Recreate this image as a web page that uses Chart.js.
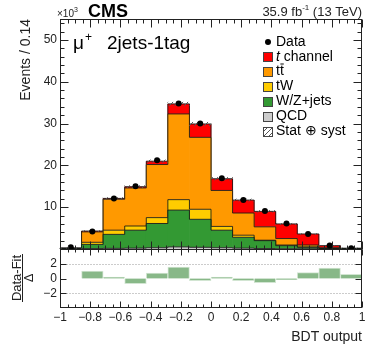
<!DOCTYPE html>
<html>
<head>
<meta charset="utf-8">
<script src="https://cdn.jsdelivr.net/npm/chart.js@4.4.0/dist/chart.umd.min.js"></script>
<style>
  html, body { margin: 0; padding: 0; background: #fff; }
  #wrap { width: 374px; height: 357px; }
</style>
</head>
<body>
<div id="wrap"><canvas id="bdtChart" width="374" height="357"></canvas></div>
<script>
// BDT output, mu+ 2jets-1tag; event counts in units of 10^3
const binCenters = [-0.92857, -0.78571, -0.64286, -0.5, -0.35714, -0.21429, -0.07143,
                    0.07143, 0.21429, 0.35714, 0.5, 0.64286, 0.78571, 0.92857];
const obsData   = [0.4, 4.2, 12.1, 15.0, 21.2, 34.8, 30.0, 16.9, 11.7, 9.1, 6.1, 3.6, 0.85, 0.2];
const tChannel  = [0.05, 0.2, 0.2, 0.3, 0.8, 2.4, 3.2, 2.8, 3.1, 3.7, 3.5, 2.65, 0.5, 0.1];
const ttbar     = [0.08, 2.5, 7.4, 9.1, 12.7, 20.5, 17.2, 8.6, 5.3, 3.2, 1.55, 0.45, 0.15, 0.04];
const tW        = [0.02, 0.5, 1.0, 1.0, 1.4, 2.5, 2.4, 0.9, 0.5, 0.1, 0.15, 0.1, 0.05, 0.01];
const wzJets    = [0.1, 1.0, 3.35, 4.3, 5.8, 8.8, 6.7, 4.2, 2.6, 1.9, 0.75, 0.35, 0.1, 0.05];
const qcd       = [0, 0.1, 0.15, 0.2, 0.3, 0.5, 0.4, 0.3, 0.2, 0.1, 0.05, 0.05, 0, 0];
const mcUnc     = [0.05, 0.1, 0.2, 0.25, 0.3, 0.4, 0.4, 0.3, 0.25, 0.2, 0.15, 0.1, 0.05, 0.03];
const pulls     = [0, 1.0, 0.2, -0.7, 0.75, 1.55, -0.3, 0.2, -0.3, -0.55, -0.15, 0.8, 1.4, 0.55];

const mcTotal = binCenters.map((_, i) => qcd[i] + wzJets[i] + tW[i] + ttbar[i] + tChannel[i]);

Chart.defaults.font.family = "'Liberation Sans', Arial, Helvetica, sans-serif";
Chart.defaults.color = '#222';

const FONT = "'Liberation Sans', Arial, Helvetica, sans-serif";
const ctx0 = document.getElementById('bdtChart').getContext('2d');

// diagonal hatch for the stat+syst band
const hatch = (() => {
  const c = document.createElement('canvas');
  c.width = 5; c.height = 5;
  const g = c.getContext('2d');
  g.strokeStyle = '#555';
  g.lineWidth = 1;
  g.beginPath();
  g.moveTo(0, 5); g.lineTo(5, 0);
  g.moveTo(-1, 1); g.lineTo(1, -1);
  g.moveTo(4, 6); g.lineTo(6, 4);
  g.stroke();
  return ctx0.createPattern(c, 'repeat');
})();

const toPts = arr => arr.map((v, i) => ({ x: binCenters[i], y: v }));

function mcSet(label, arr, color) {
  return {
    type: 'bar', label, data: toPts(arr), backgroundColor: color, borderWidth: 0,
    yAxisID: 'y', stack: 'mc', grouped: false, barPercentage: 1.03, categoryPercentage: 1
  };
}

function fmt(v) {
  const r = Math.round(v * 10) / 10;
  return r < 0 ? '\u2212' + Math.abs(r) : String(r);
}

function txt(ctx, s, x, y, size, opts = {}) {
  ctx.font = (opts.style || '') + ' ' + size + 'px ' + FONT;
  ctx.textAlign = opts.align || 'left';
  ctx.textBaseline = opts.base || 'alphabetic';
  ctx.fillStyle = opts.color || '#000';
  ctx.fillText(s, x, y);
  return ctx.measureText(s).width;
}

const panels = {
  id: 'panels',
  afterDatasetDraw(chart, args) {
    const ds = chart.data.datasets[args.index];
    if (ds.stack !== 'mc') return;
    const { ctx } = chart;
    const xs = chart.scales.x;
    const half = (xs.getPixelForValue(binCenters[1]) - xs.getPixelForValue(binCenters[0])) / 2;
    const bars = args.meta.data;
    ctx.save();
    ctx.strokeStyle = 'rgba(20,20,20,0.85)';
    ctx.lineWidth = 1;
    ctx.beginPath();
    bars.forEach((b, i) => {
      const l = b.x - half, r = b.x + half;
      if (i === 0) { ctx.moveTo(l, b.base); }
      ctx.lineTo(l, b.y);
      ctx.lineTo(r, b.y);
    });
    const last = bars[bars.length - 1];
    ctx.lineTo(last.x + half, last.base);
    ctx.stroke();
    ctx.restore();
  },
  afterDraw(chart) {
    const { ctx } = chart;
    const xs = chart.scales.x, ys = chart.scales.y, yr = chart.scales.yr;
    const L = Math.round(xs.left) + 0.5, R = Math.round(xs.right) - 0.5;
    const T = Math.round(ys.top) + 0.5, M = Math.round(ys.bottom) + 0.5, B = Math.round(yr.bottom) - 0.5;
    ctx.save();

    // ratio reference lines
    ctx.strokeStyle = '#999';
    ctx.setLineDash([1, 2]);
    [2, -2].forEach(v => {
      const py = Math.round(yr.getPixelForValue(v)) + 0.5;
      ctx.beginPath(); ctx.moveTo(L, py); ctx.lineTo(R, py); ctx.stroke();
    });
    ctx.setLineDash([]);

    // frames
    ctx.strokeStyle = '#222';
    ctx.lineWidth = 1;
    ctx.strokeRect(L, T, R - L, M - T);
    ctx.strokeRect(L, M, R - L, B - M);

    // ticks
    ctx.beginPath();
    for (let i = 0; i <= 40; i++) {
      const v = -1 + i * 0.05;
      const px = Math.round(xs.getPixelForValue(v)) + 0.5;
      const major = i % 4 === 0;
      const lm = major ? 8 : 4, lr = major ? 6 : 3;
      ctx.moveTo(px, T); ctx.lineTo(px, T + lm);
      ctx.moveTo(px, M); ctx.lineTo(px, M - lm);
      ctx.moveTo(px, M); ctx.lineTo(px, M + lr);
      ctx.moveTo(px, B); ctx.lineTo(px, B - lr);
    }
    for (let v = 2; v < 55; v += 2) {
      const py = Math.round(ys.getPixelForValue(v)) + 0.5;
      const len = v % 10 === 0 ? 8 : 4;
      ctx.moveTo(L, py); ctx.lineTo(L + len, py);
      ctx.moveTo(R, py); ctx.lineTo(R - len, py);
    }
    [-2, 0, 2].forEach(v => {
      const py = Math.round(yr.getPixelForValue(v)) + 0.5;
      ctx.moveTo(L, py); ctx.lineTo(L + 6, py);
      ctx.moveTo(R, py); ctx.lineTo(R - 6, py);
    });
    ctx.stroke();

    // header texts
    let w = txt(ctx, '\u00d710', 57, 17, 10, { color: '#222' });
    txt(ctx, '3', 57 + w, 12, 7, { color: '#222' });
    txt(ctx, 'CMS', 88, 17, 18, { style: 'bold' });
    w = txt(ctx, ' (13 TeV)', 362, 16, 13, { align: 'right', color: '#222' });
    const wSup = txt(ctx, '-1', 362 - w, 10, 8, { align: 'right', color: '#222' });
    txt(ctx, '35.9 fb', 362 - w - wSup, 16, 13, { align: 'right', color: '#222' });

    // channel label
    w = txt(ctx, '\u03bc', 73, 49, 19);
    txt(ctx, '+', 73 + w + 1, 41, 12);
    txt(ctx, '2jets-1tag', 107, 49, 19);

    // axis titles
    ctx.save();
    ctx.translate(30, 19);
    ctx.rotate(-Math.PI / 2);
    txt(ctx, 'Events / 0.14', 0, 0, 14, { align: 'right', color: '#222' });
    ctx.restore();

    ctx.save();
    ctx.translate(21, 278);
    ctx.rotate(-Math.PI / 2);
    txt(ctx, 'Data-Fit', 0, 0, 13, { align: 'center', color: '#222' });
    txt(ctx, '\u0394', 0, 12, 13, { align: 'center', color: '#222' });
    ctx.restore();
    ctx.strokeStyle = '#222';
    ctx.beginPath(); ctx.moveTo(22.5, 254); ctx.lineTo(22.5, 302); ctx.stroke();

    txt(ctx, 'BDT output', 362, 341, 14, { align: 'right', color: '#222' });

    // legend
    const lx = 263, tx = 276, rows = [42, 57, 71.5, 86.5, 101.5, 116.5, 131.5];
    const boxes = [null, '#ff0000', '#ff9900', '#ffcc00', '#339933', '#cccccc', hatch];
    ctx.fillStyle = '#000';
    ctx.beginPath(); ctx.arc(lx + 5, rows[0], 3, 0, Math.PI * 2); ctx.fill();
    for (let k = 1; k < boxes.length; k++) {
      const y0 = Math.round(rows[k] - 5) + 0.5;
      ctx.fillStyle = boxes[k];
      ctx.fillRect(lx + 0.5, y0, 9, 9);
      ctx.strokeStyle = '#444';
      ctx.strokeRect(lx + 0.5, y0, 9, 9);
    }
    const opt = { base: 'middle' };
    txt(ctx, 'Data', tx, rows[0], 14, opt);
    w = txt(ctx, 't', tx, rows[1], 14, { base: 'middle', style: 'italic' });
    txt(ctx, ' channel', tx + w, rows[1], 14, opt);
    w = txt(ctx, 'tt', tx, rows[2], 14, opt);
    const wt = ctx.measureText('t').width;
    ctx.strokeStyle = '#000';
    ctx.beginPath(); ctx.moveTo(tx + wt + 0.5, rows[2] - 7.5); ctx.lineTo(tx + w, rows[2] - 7.5); ctx.stroke();
    txt(ctx, 'tW', tx, rows[3], 14, opt);
    txt(ctx, 'W/Z+jets', tx, rows[4], 14, opt);
    txt(ctx, 'QCD', tx, rows[5], 14, opt);
    txt(ctx, 'Stat \u2295 syst', tx, rows[6], 14, opt);

    ctx.restore();
  }
};

new Chart(ctx0, {
  type: 'bar',
  data: {
    datasets: [
      mcSet('QCD', qcd, '#cccccc'),
      mcSet('W/Z+jets', wzJets, '#339933'),
      mcSet('tW', tW, '#ffcc00'),
      mcSet('tt\u0304', ttbar, '#ff9900'),
      mcSet('t channel', tChannel, '#ff0000'),
      {
        type: 'bar', label: 'Stat \u2295 syst',
        data: mcTotal.map((t, i) => ({ x: binCenters[i], y: [t - mcUnc[i], t + mcUnc[i]] })),
        backgroundColor: hatch, borderWidth: 0, yAxisID: 'y', stack: 'unc',
        grouped: false, barPercentage: 1, categoryPercentage: 1, order: -1
      },
      {
        type: 'line', label: 'Data', data: toPts(obsData), showLine: false,
        pointRadius: 3, pointBackgroundColor: '#000', pointBorderWidth: 0,
        yAxisID: 'y', stack: 'obs', order: -2
      },
      {
        type: 'bar', label: '(Data-Fit)/\u0394', data: toPts(pulls),
        backgroundColor: '#88b888', borderColor: '#d2e5d2', borderWidth: 1,
        yAxisID: 'yr', grouped: false, barPercentage: 1, categoryPercentage: 1
      }
    ]
  },
  options: {
    responsive: false,
    animation: false,
    devicePixelRatio: 1,
    layout: { padding: { top: 19, right: 12, left: 0, bottom: 0 } },
    plugins: { legend: { display: false }, tooltip: { enabled: false } },
    scales: {
      x: {
        type: 'linear', min: -1, max: 1, offset: false, position: 'bottom',
        grid: { display: false, drawTicks: false, offset: false }, border: { display: false },
        ticks: { stepSize: 0.2, autoSkip: false, maxRotation: 0, padding: 2, font: { size: 12 }, color: '#222', callback: v => fmt(v) },
        afterFit: s => { s.height = 49; }
      },
      y: {
        type: 'linear', position: 'left', stack: 'panels', stackWeight: 230, weight: 1,
        stacked: true, min: 0, max: 55,
        grid: { display: false, drawTicks: false }, border: { display: false },
        ticks: { stepSize: 10, includeBounds: false, autoSkip: false, padding: 3, font: { size: 12 }, color: '#222', callback: v => (v > 0 && v < 55) ? v : '' },
        afterFit: s => { s.width = 60; }
      },
      yr: {
        type: 'linear', position: 'left', stack: 'panels', stackWeight: 59, weight: 0,
        min: -4, max: 4,
        grid: { display: false, drawTicks: false }, border: { display: false },
        ticks: { stepSize: 2, autoSkip: false, padding: 3, font: { size: 12 }, color: '#222', callback: v => Math.abs(v) < 4 ? fmt(v) : '' },
        afterFit: s => { s.width = 60; }
      }
    }
  },
  plugins: [panels]
});
</script>
</body>
</html>
